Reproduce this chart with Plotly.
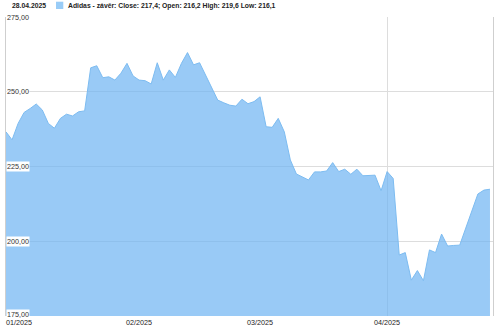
import plotly.graph_objects as go

# ---- data ----
close_values = [
    236.6, 233.9, 239.4, 243.1, 244.4, 245.9, 243.9, 239.4, 237.8, 241.1,
    242.5, 241.9, 243.3, 243.6, 258.0, 258.7, 254.7, 255.0, 253.9, 256.2,
    259.5, 255.3, 253.9, 253.7, 252.6, 259.7, 253.9, 257.3, 254.8, 259.5,
    263.1, 259.0, 259.7, 255.6, 251.1, 247.2, 246.3, 245.5, 245.2, 247.5,
    246.0, 246.7, 248.3, 238.3, 238.1, 241.1, 236.6, 227.2, 222.5, 221.6,
    220.5, 223.2, 223.2, 223.5, 226.3, 223.3, 224.1, 222.4, 224.1, 221.9,
    221.9, 222.1, 216.9, 223.3, 221.0, 195.4, 196.2, 187.0, 190.2, 186.8,
    197.1, 196.2, 202.4, 198.4, 198.6, 198.7, 204.4, 210.1, 215.8, 217.1,
    217.4,
]
month_labels = ["01/2025", "02/2025", "03/2025", "04/2025"]
month_start_index = [0, 22, 42, 63]
y_ticks = [175, 200, 225, 250, 275]
y_tick_labels = ["175,00", "200,00", "225,00", "250,00", "275,00"]
title_date = "28.04.2025"
legend_text = "Adidas - závěr: Close: 217,4; Open: 216,2 High: 219,6 Low: 216,1"

FONT = "Liberation Sans"
x_idx = list(range(len(close_values)))

fig = go.Figure()
fig.add_trace(go.Scatter(
    x=x_idx, y=close_values, mode="lines",
    line=dict(color="#7dbcf1", width=1),
    fill="tozeroy", fillcolor="rgba(110,180,242,0.7)",
    hoverinfo="skip", showlegend=False,
))

annotations = []
for v, t in zip(y_ticks, y_tick_labels):
    annotations.append(dict(
        xref="paper", x=0, yref="y", y=v, xanchor="left", yanchor="middle",
        text=t, showarrow=False, bgcolor="white", borderpad=0, borderwidth=1,
        bordercolor="rgba(0,0,0,0)",
        yshift=2 if v == 175 else 0,
        font=dict(family=FONT, size=7.2, color="#333"),
    ))
for i, (lab, idx) in enumerate(zip(month_labels, month_start_index)):
    annotations.append(dict(
        xref="x", x=idx, yref="paper", y=0,
        xanchor="left" if i == 0 else "center", yanchor="top",
        xshift=-2 if i == 0 else 0, yshift=0,
        text=lab, showarrow=False,
        font=dict(family=FONT, size=7.2, color="#222"),
    ))
annotations.append(dict(
    xref="paper", x=0, yref="paper", y=1, xanchor="left", yanchor="middle",
    xshift=4, yshift=11.5, text="<b>%s</b>" % title_date, showarrow=False,
    font=dict(family=FONT, size=6.8, color="#222"),
))
annotations.append(dict(
    xref="paper", x=0, yref="paper", y=1, xanchor="left", yanchor="middle",
    xshift=60, yshift=11.5, text="<b>%s</b>" % legend_text, showarrow=False,
    font=dict(family=FONT, size=6.8, color="#222"),
))

fig.update_layout(
    width=500, height=327,
    margin=dict(l=6, r=7, t=17, b=11, autoexpand=False),
    paper_bgcolor="white", plot_bgcolor="white",
    showlegend=False,
    annotations=annotations,
    shapes=[dict(
        type="rect", xref="paper", yref="paper",
        xsizemode="pixel", ysizemode="pixel", xanchor=0, yanchor=1,
        x0=50, x1=57.3, y0=8, y1=15.3,
        fillcolor="#99ccf7", line=dict(width=0),
    )],
    xaxis=dict(
        range=[0, 80.5], tickvals=[63], showgrid=True, gridcolor="#dddddd",
        gridwidth=1, showticklabels=False, ticks="", zeroline=False,
        showline=False,
    ),
    yaxis=dict(
        range=[175, 275], tickvals=y_ticks, showgrid=True, gridcolor="#dddddd",
        gridwidth=1, showticklabels=False, ticks="", zeroline=False,
        showline=True, linecolor="#cfcfcf", linewidth=1, mirror=True,
    ),
)

fig.write_html("out.html")
